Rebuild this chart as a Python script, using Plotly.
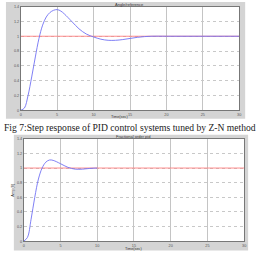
import plotly.graph_objects as go

# Top: Z-N tuned PID step response
t_zn = [0, 0.5, 1, 1.5, 2, 2.5, 3, 3.5, 4, 4.5, 5, 5.5, 6, 7, 8, 9, 10, 11, 12, 13, 14, 15, 16, 17, 18, 20, 22, 24, 26, 28, 30]
y_zn = [0, 0.03, 0.2, 0.45, 0.72, 0.97, 1.15, 1.26, 1.32, 1.35, 1.36, 1.34, 1.3, 1.2, 1.1, 1.03, 0.99, 0.96, 0.945, 0.945, 0.955, 0.97, 0.985, 0.995, 1.0, 1.0, 1.0, 1.0, 1.0, 1.0, 1.0]

# Bottom: second tuned response
t_fo = [0, 0.5, 1, 1.5, 2, 2.5, 3, 3.5, 4, 5, 6, 7, 8, 9, 10]
y_fo = [0, 0.05, 0.3, 0.6, 0.85, 1.0, 1.08, 1.11, 1.105, 1.06, 1.01, 0.985, 0.985, 0.995, 1.0]

ref_t = [0, 30]
ref_y = [1, 1]

x_ticks = [0, 5, 10, 15, 20, 25, 30]
y_ticks = [0, 0.2, 0.4, 0.6, 0.8, 1.0, 1.2, 1.4]
y_tick_text = ["0", "0.2", "0.4", "0.6", "0.8", "1", "1.2", "1.4"]

caption = "Fig 7:Step response of PID control systems tuned by Z-N method"

W, H = 261, 253
def px(x): return x / W
def py(y): return 1 - y / H

fig = go.Figure()
blue = "#7272f4"
red = "#ff8080"

fig.add_trace(go.Scatter(x=ref_t, y=ref_y, mode="lines", line=dict(color=red, width=0.9), xaxis="x", yaxis="y"))
fig.add_trace(go.Scatter(x=t_zn, y=y_zn, mode="lines", line=dict(color=blue, width=0.9, shape="spline"), xaxis="x", yaxis="y"))
fig.add_trace(go.Scatter(x=ref_t, y=ref_y, mode="lines", line=dict(color=red, width=0.9), xaxis="x2", yaxis="y2"))
fig.add_trace(go.Scatter(x=t_fo, y=y_fo, mode="lines", line=dict(color=blue, width=0.9, shape="spline"), xaxis="x2", yaxis="y2"))

tickfont = dict(size=3.8, color="#555", family="Liberation Sans")
def xax(dom, anchor):
    return dict(domain=dom, anchor=anchor, range=[0, 30], tickvals=x_ticks, tickfont=tickfont,
                showgrid=True, gridcolor="#c4c4c4", gridwidth=0.8, zeroline=False,
                showline=True, mirror=True, linecolor="#777", linewidth=0.6,
                ticks="", ticklen=0)
def yax(dom, anchor):
    return dict(domain=dom, anchor=anchor, range=[0, 1.4], tickvals=y_ticks, ticktext=y_tick_text,
                tickfont=tickfont, showgrid=True, gridcolor="#c8c8c8", gridwidth=0.8, griddash="dot",
                zeroline=False, showline=True, mirror=True, linecolor="#777", linewidth=0.6,
                ticks="", ticklen=0)

gray = "#d4d4d4"
fig.update_layout(
    width=W, height=H, margin=dict(l=0, r=0, t=0, b=0),
    paper_bgcolor="white", plot_bgcolor="white", showlegend=False,
    xaxis=xax([px(20), px(241)], "y"),
    yaxis=yax([py(110), py(4.7)], "x"),
    xaxis2=xax([px(23), px(246)], "y2"),
    yaxis2=yax([py(243), py(139)], "x2"),
    shapes=[
        dict(type="rect", xref="paper", yref="paper", x0=px(5), x1=px(247), y0=py(118.5), y1=py(0),
             fillcolor=gray, line=dict(width=0), layer="below"),
        dict(type="rect", xref="paper", yref="paper", x0=px(13), x1=px(250), y0=py(252.5), y1=py(135),
             fillcolor=gray, line=dict(width=0), layer="below"),
        dict(type="rect", xref="paper", yref="paper", x0=px(20), x1=px(241), y0=py(110), y1=py(4.7),
             fillcolor="white", line=dict(width=0), layer="below"),
        dict(type="rect", xref="paper", yref="paper", x0=px(23), x1=px(246), y0=py(243), y1=py(139),
             fillcolor="white", line=dict(width=0), layer="below"),
    ],
    annotations=[
        dict(text=caption, x=px(130.5), y=py(128), xref="paper", yref="paper", showarrow=False,
             font=dict(family="Liberation Serif", size=9.6, color="#222"), xanchor="center", yanchor="middle"),
        dict(text="Angle/reference", x=px(130), y=py(2.3), xref="paper", yref="paper", showarrow=False,
             font=dict(family="Liberation Sans", size=4, color="#333"), xanchor="center", yanchor="middle"),
        dict(text="Time(sec)", x=px(120), y=py(116.8), xref="paper", yref="paper", showarrow=False,
             font=dict(family="Liberation Sans", size=3.8, color="#333"), xanchor="center", yanchor="middle"),
        dict(text="Fractional order pid", x=px(134), y=py(136.8), xref="paper", yref="paper", showarrow=False,
             font=dict(family="Liberation Sans", size=4, color="#333"), xanchor="center", yanchor="middle"),
        dict(text="Time(sec)", x=px(134), y=py(250.5), xref="paper", yref="paper", showarrow=False,
             font=dict(family="Liberation Sans", size=3.8, color="#333"), xanchor="center", yanchor="middle"),
        dict(text="Amp(θ)", x=px(12), y=py(191), xref="paper", yref="paper", showarrow=False, textangle=-90,
             font=dict(family="Liberation Sans", size=4, color="#333"), xanchor="center", yanchor="middle"),
    ],
)

fig.write_html("out.html")
